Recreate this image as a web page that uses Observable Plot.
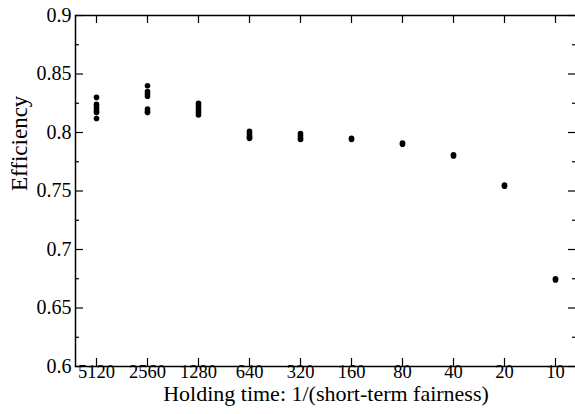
<!DOCTYPE html>
<html>
<head>
<meta charset="utf-8">
<script src="https://cdn.jsdelivr.net/npm/d3@7"></script>
<script src="https://cdn.jsdelivr.net/npm/@observablehq/plot@0.6"></script>
<style>
  html, body { margin: 0; padding: 0; background: #fff; overflow: hidden; }
  svg { display: block; max-width: none !important; }
  svg text { font-family: "Liberation Serif", "Times New Roman", serif !important; font-variant-numeric: normal !important; }
</style>
</head>
<body>
<div id="chart"></div>
<script>
// Holding time categories (x axis, equally spaced, decreasing)
const holdingTimes = ["5120", "2560", "1280", "640", "320", "160", "80", "40", "20", "10"];
// Efficiency of each run at each holding time
const efficiencyRuns = [
  [0.830, 0.824, 0.822, 0.820, 0.818, 0.817, 0.812],
  [0.840, 0.835, 0.833, 0.831, 0.820, 0.818, 0.817],
  [0.825, 0.823, 0.821, 0.819, 0.817, 0.815],
  [0.801, 0.799, 0.797, 0.796, 0.795],
  [0.799, 0.797, 0.795, 0.794],
  [0.795, 0.794],
  [0.791, 0.790],
  [0.781, 0.780],
  [0.755, 0.754],
  [0.675, 0.674]
];
const yMajorTicks = [0.6, 0.65, 0.7, 0.75, 0.8, 0.85, 0.9];
const yMinorTicks = [0.625, 0.675, 0.725, 0.775, 0.825, 0.875];
const xTitle = "Holding time: 1/(short-term fairness)";
const yTitle = "Efficiency";

const points = holdingTimes.flatMap((h, i) => efficiencyRuns[i].map(v => ({h, v})));

const W = 576, H = 414;
const mL = 75, mR = 0, mT = 15, mB = 48;
const frameW = W - mL - mR, frameH = H - mT - mB;
const font = "'Liberation Serif', 'Times New Roman', serif";

const chart = Plot.plot({
  width: W,
  height: H,
  marginLeft: mL,
  marginRight: mR,
  marginTop: mT,
  marginBottom: mB,
  style: {fontFamily: font, fontSize: "20px", color: "#000", background: "#fff", overflow: "visible"},
  x: {type: "point", domain: holdingTimes, padding: 0.33},
  y: {domain: [0.6, 0.9]},
  marks: [
    // x ticks inward (bottom and top)
    Plot.ruleX(holdingTimes, {x: d => d, insetTop: frameH - 8, stroke: "#000", strokeWidth: 1.2}),
    Plot.ruleX(holdingTimes, {x: d => d, insetBottom: frameH - 8, stroke: "#000", strokeWidth: 1.2}),
    // y major ticks inward (left and right)
    Plot.ruleY(yMajorTicks, {y: d => d, insetRight: frameW - 8, stroke: "#000", strokeWidth: 1.2}),
    Plot.ruleY(yMajorTicks, {y: d => d, insetLeft: frameW - 8, stroke: "#000", strokeWidth: 1.2}),
    // y minor ticks
    Plot.ruleY(yMinorTicks, {y: d => d, insetRight: frameW - 4, stroke: "#000", strokeWidth: 1.2}),
    Plot.ruleY(yMinorTicks, {y: d => d, insetLeft: frameW - 4, stroke: "#000", strokeWidth: 1.2}),
    Plot.frame({stroke: "#000", strokeWidth: 1.5}),
    Plot.axisX({
      ticks: holdingTimes, tickSize: 0, tickPadding: -2, fontSize: 18.5, fontFamily: font, label: null
    }),
    Plot.axisY({
      ticks: yMajorTicks, tickSize: 0, tickPadding: 4, fontSize: 20, fontFamily: font,
      tickFormat: d => String(+d.toFixed(3)), label: null
    }),
    Plot.text([xTitle], {text: d => d, frameAnchor: "bottom", dy: 34, fontSize: 22, fill: "#000", fontFamily: font}),
    Plot.text([yTitle], {text: d => d, frameAnchor: "left", dx: -56, rotate: -90, fontSize: 23, fill: "#000", fontFamily: font}),
    Plot.dot(points, {x: "h", y: "v", r: 2.8, fill: "#000", stroke: "none"})
  ]
});
document.getElementById("chart").append(chart);
</script>
</body>
</html>
